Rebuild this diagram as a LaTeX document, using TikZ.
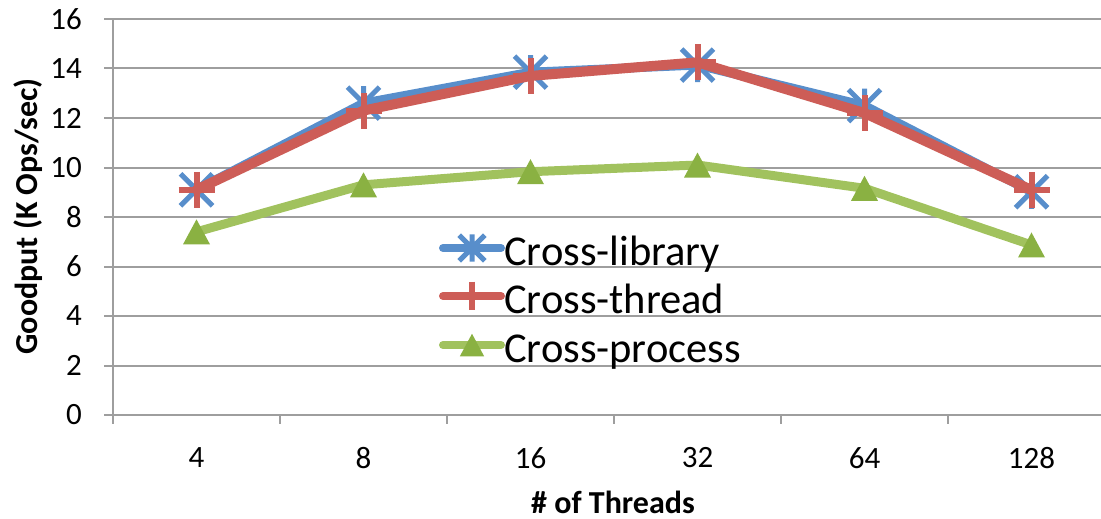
\documentclass[tikz,border=0pt]{standalone}
\usepackage{fontspec}
\setmainfont{Carlito}
\usetikzlibrary{calc}
\definecolor{gridc}{RGB}{158,158,158}
\definecolor{bluec}{RGB}{88,142,203}
\definecolor{redc}{RGB}{205,93,87}
\definecolor{greenc}{RGB}{161,194,94}
\definecolor{greendk}{RGB}{138,177,66}
\tikzset{
  grid line/.style={draw=gridc, line width=2pt},
  tick lbl/.style={font=\fontsize{31}{31}\selectfont, inner sep=0pt},
  axis title/.style={font=\fontsize{32}{32}\selectfont\bfseries, inner sep=0pt},
  legend lbl/.style={font=\fontsize{42.5}{42.5}\selectfont, inner sep=0pt, anchor=base west},
  series line/.style={line width=#1, line join=round, line cap=round},
  starmark/.pic={\draw[bluec, line width=5pt] (-16,-16) -- (16,16) (-16,16) -- (16,-16) (0,-17) -- (0,17);},
  plusmark/.pic={\draw[redc, line width=6pt] (-18,0) -- (18,0) (0,-18) -- (0,18);},
  trimark/.pic={\fill[greendk] (-13.5,12.5) -- (13.5,12.5) -- (0,-12.5) -- cycle;},
}
\begin{document}
\begin{tikzpicture}[x=1pt, y=-1pt]
\useasboundingbox (0,0) rectangle (1101,519);
% horizontal grid lines with their labels
\foreach \v in {0,2,...,16} {
  \pgfmathsetmacro{\py}{415-24.75*\v}
  \draw[grid line] (104,\py) -- (1101,\py);
  \node[tick lbl, anchor=east] (yl\v) at (82,\py) {\v};
}
% axes
\draw[grid line] (113,19) -- (113,424);
\foreach \k in {1,...,5} \draw[grid line] (113+167*\k,415) -- (113+167*\k,424);
% category labels
\foreach \lbl [count=\i from 0] in {4,8,16,32,64,128} {
  \node[tick lbl] (xl\i) at (113+167*\i+83.5,458) {\lbl};
}
% axis titles
\node[axis title, anchor=base] (xtitle) at (613,513) {\# of Threads};
\node[axis title, rotate=90] (ytitle) at (28,216.5) {Goodput (K Ops/sec)};
% data points
\foreach \b/\r/\g [count=\i from 0] in {9.1/9.1/7.4, 12.6/12.3/9.3, 13.85/13.7/9.83, 14.14/14.25/10.1, 12.5/12.2/9.16, 9.02/9.09/6.87} {
  \pgfmathsetmacro{\px}{113+167*\i+83.5}
  \coordinate (b\i) at (\px,415-24.75*\b);
  \coordinate (r\i) at (\px,415-24.75*\r);
  \coordinate (g\i) at (\px,415-24.75*\g);
}
% Cross-library
\draw[bluec, series line=9pt] (b0) -- (b1) -- (b2) -- (b3) -- (b4) -- (b5);
\foreach \i in {0,...,5} \pic at (b\i) {starmark};
% Cross-thread
\draw[redc, series line=10pt] (r0) -- (r1) -- (r2) -- (r3) -- (r4) -- (r5);
\foreach \i in {0,...,5} \pic at (r\i) {plusmark};
% Cross-process
\draw[greenc, series line=9pt] (g0) -- (g1) -- (g2) -- (g3) -- (g4) -- (g5);
\foreach \i in {0,...,5} \pic at (g\i) {trimark};
% legend
\coordinate (la0) at (443,248); \coordinate (lb0) at (501,248);
\coordinate (la1) at (443,296); \coordinate (lb1) at (501,296);
\coordinate (la2) at (443,345); \coordinate (lb2) at (501,345);
\draw[bluec, series line=8pt] (la0) -- (lb0);
\pic[scale=0.8] at ($(la0)!0.5!(lb0)$) {starmark};
\draw[redc, series line=8pt] (la1) -- (lb1);
\pic[scale=0.8] at ($(la1)!0.5!(lb1)$) {plusmark};
\draw[greenc, series line=8pt] (la2) -- (lb2);
\pic[scale=0.9] at ($(la2)!0.5!(lb2)$) {trimark};
\node[legend lbl] (leg0) at (504,265) {Cross-library};
\node[legend lbl] (leg1) at (504,313) {Cross-thread};
\node[legend lbl] (leg2) at (504,362) {Cross-process};
\end{tikzpicture}
\end{document}
